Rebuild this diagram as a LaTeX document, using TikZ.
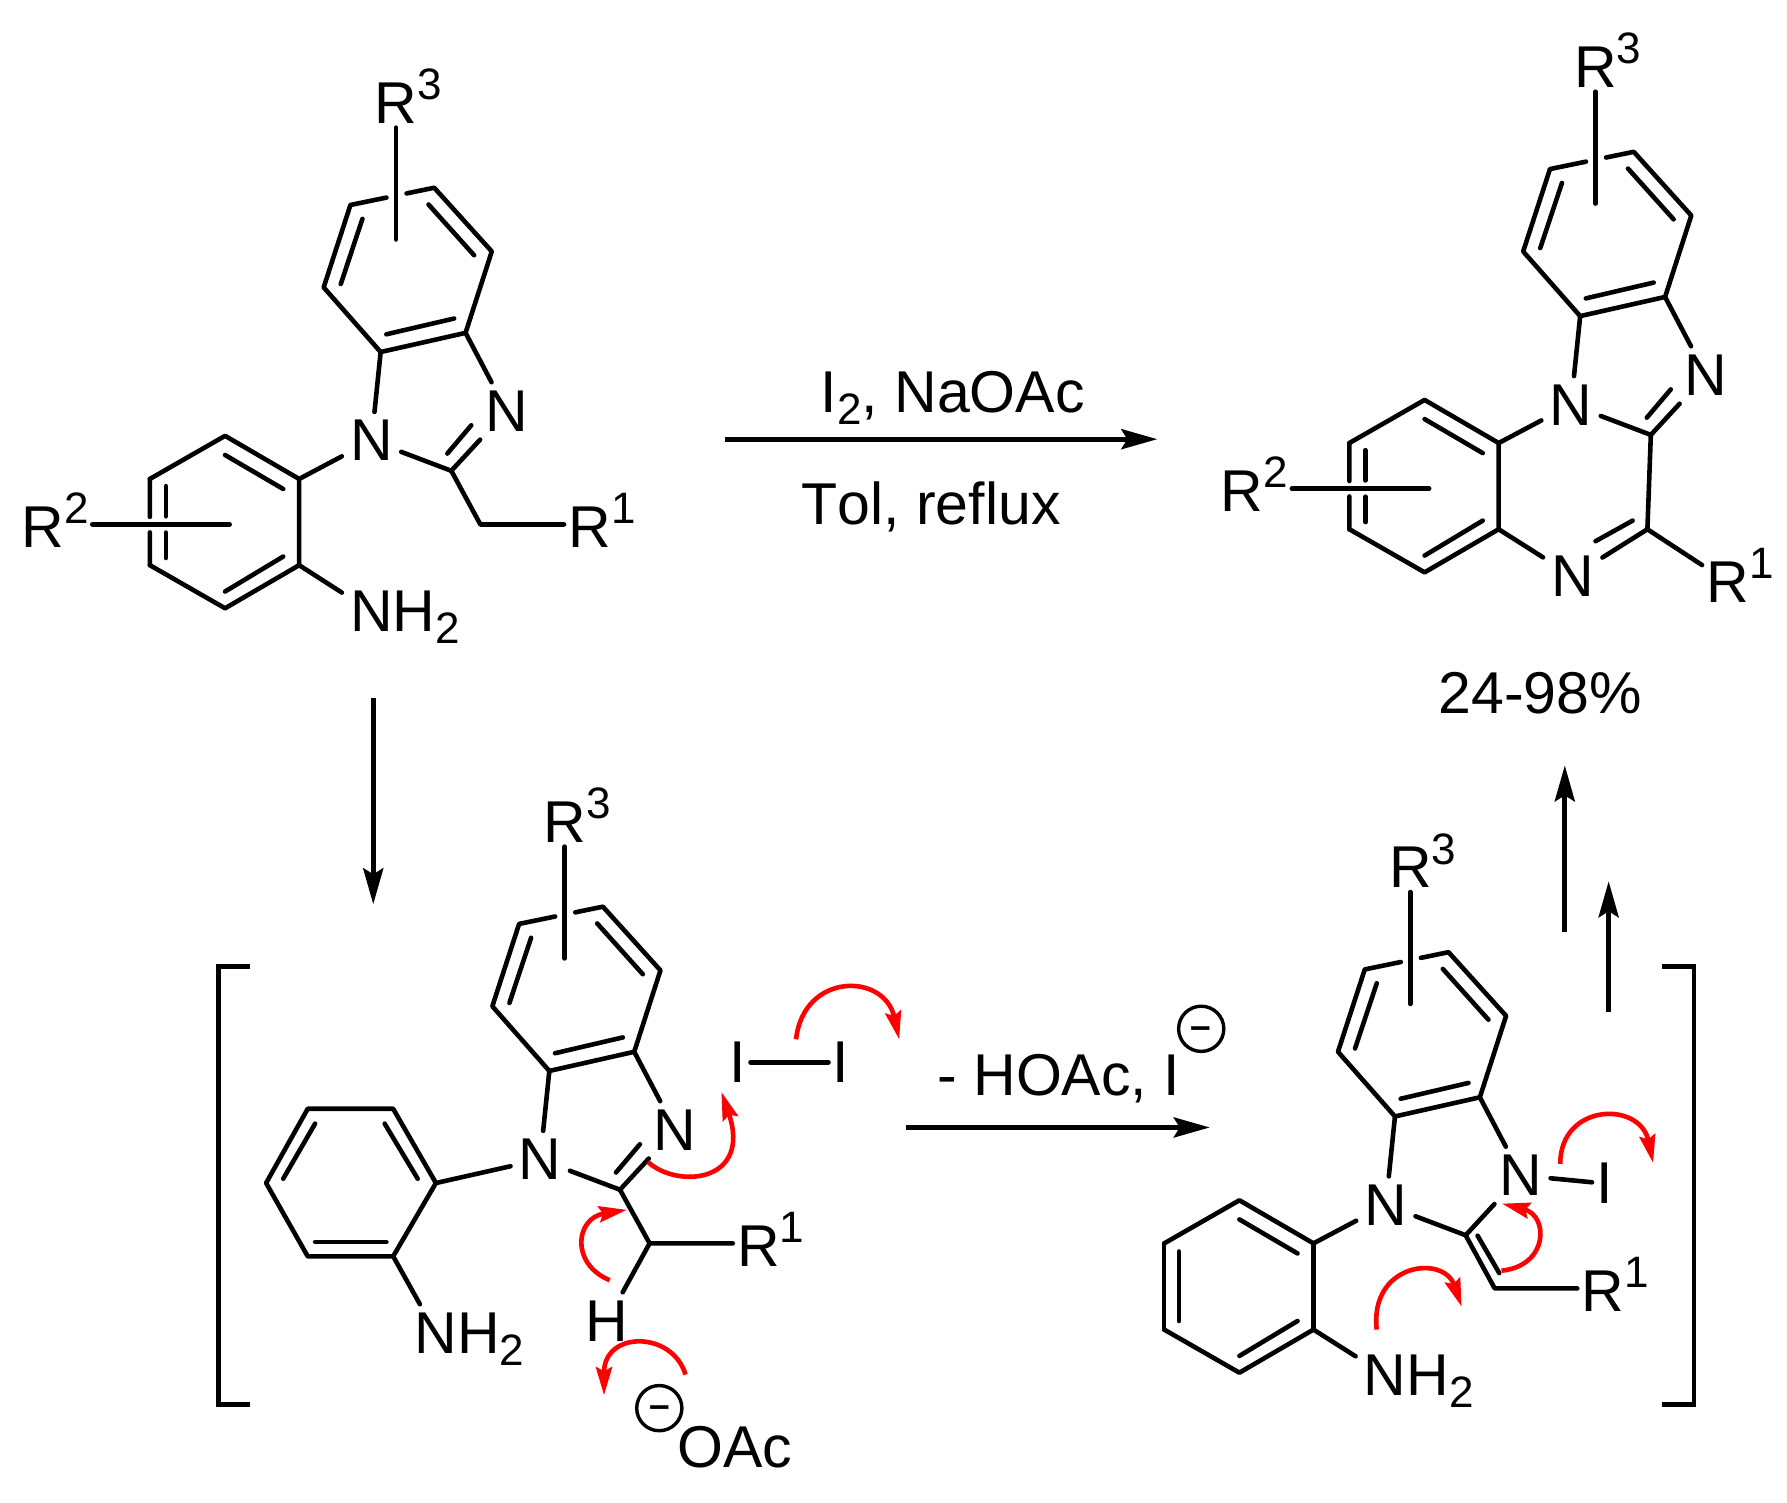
\documentclass[tikz,border=0pt]{standalone}
\usepackage{fontspec}
\setmainfont[Kerning=Off]{Liberation Sans}
\usetikzlibrary{arrows.meta, calc}
\definecolor{color1}{RGB}{255,0,0}
\newcommand{\mainfont}{\fontsize{29.5}{34}\selectfont}
\newcommand{\supfont}{\fontsize{22}{24}\selectfont}
\newcommand{\Rsup}[1]{R\rlap{\raisebox{11.7pt}[0pt][0pt]{\supfont #1}}}
\newcommand{\NHtwo}{N\rlap{H\raisebox{-6pt}[0pt][0pt]{\supfont 2}}}
\tikzset{
  bond/.style={black,line width=2.3pt,line join=round,line cap=round},
  reaction/.style={black,line width=2.4pt,-{Stealth[length=18pt,width=10pt,inset=3pt]}},
  curved/.style={color1,line width=2.3pt,-{Stealth[length=14pt,width=8pt,inset=2pt]}},
  atom/.style={font=\mainfont,inner sep=4pt},
  rgroup/.style={font=\mainfont,inner sep=2pt},
  iodine/.style={font=\mainfont,inner sep=2pt},
  charge/.style={circle,draw,line width=1.7pt,minimum size=22.6pt,inner sep=0pt,font=\fontsize{18.5}{20}\bfseries\selectfont,text height=5pt,text depth=5pt},
  caption/.style={font=\mainfont,anchor=base}
}
% fused ring with the five membered part, #1 prefix, #2 shift
\newcommand{\fusedring}[2]{
  \begin{scope}[shift={#2}]
    \coordinate (#1a) at (615,428);
    \coordinate (#1b) at (762,392);
    \coordinate (#1c) at (863,525);
    \coordinate (#1d) at (817,695);
    \coordinate (#1e) at (668,735);
    \coordinate (#1f) at (568,600);
    \coordinate (#1g) at (792,983);
    \coordinate (#1in) at (827,888);
    \coordinate (#1ic) at (785,947);
    \coordinate (#1rend) at (695,500);
    \node[rgroup] (#1rthree) at (695,215) {\Rsup{3}};
    \node[atom] (#1none) at (652,920) {N};
    \node[atom] (#1ntwo) at (889,858) {N};
    \draw[bond] ($(#1a)!0.43!(#1b)$) -- (#1a) -- (#1f) -- (#1e) -- (#1d) -- (#1c) -- (#1b) -- ($(#1a)!0.67!(#1b)$);
    \draw[bond] (598,593) -- (636,457);
    \draw[bond] (752,427) -- (832,533);
    \draw[bond] (797,665) -- (678,698);
    \draw[bond] (#1rthree) -- (#1rend);
    \draw[bond] (#1e) -- (#1none);
    \draw[bond] (#1d) -- (#1ntwo);
    \draw[bond] (#1none) -- (#1g);
  \end{scope}
}
% six membered ring open on the left side
\newcommand{\sixring}[2]{
  \begin{scope}[shift={#2}]
    \coordinate (#1p) at (395,910);
    \coordinate (#1q) at (525,1000);
    \coordinate (#1r) at (525,1180);
    \coordinate (#1s) at (395,1270);
    \coordinate (#1t) at (263,1180);
    \coordinate (#1u) at (263,1000);
    \draw[bond] (#1u) -- (#1p) -- (#1q) -- (#1r) -- (#1s) -- (#1t);
    \draw[bond] (395,950) -- (497,1021);
    \draw[bond] (497,1162) -- (395,1235);
  \end{scope}
}
% left side cut by the R2 line
\newcommand{\sidecut}[2]{
  \begin{scope}[shift={#2}]
    \coordinate (#1lone) at (162,1095);
    \coordinate (#1ltwo) at (403,1095);
    \node[rgroup] (#1rtwo) at (75,1100) {\Rsup{2}};
    \draw[bond] (#1u) -- ($(#1u)!0.44!(#1t)$);
    \draw[bond] ($(#1u)!0.62!(#1t)$) -- (#1t);
    \draw[bond] (291,1015) -- (291,1078);
    \draw[bond] (291,1112) -- (291,1165);
    \draw[bond] (#1lone) -- (#1ltwo);
  \end{scope}
}
\begin{document}
\begin{tikzpicture}[x=0.28492pt,y=-0.23948pt]
  \useasboundingbox (0,0) rectangle (3136,3136);

  % starting material
  \fusedring{a}{(0,0)}
  \sixring{a}{(0,0)}
  \sidecut{a}{(0,0)}
  \draw[bond] (antwo) -- (ag) (ain) -- (aic);
  \coordinate (ach) at (843,1095);
  \node[rgroup] (arone) at (1035,1100) {\Rsup{1}};
  \node[atom] (anh) at (652,1277) {\NHtwo};
  \draw[bond] (ag) -- (ach) -- (ach -| arone.west);
  \draw[bond] (aq) -- (anone);
  \draw[bond] (ar) -- (anh);

  % product
  \fusedring{b}{(2105,-75)}
  \sixring{b}{(2105,-75)}
  \sidecut{b}{(2105,-75)}
  \draw[bond] (bntwo) -- (bg) (bin) -- (bic);
  \begin{scope}[shift={(1568,0)}]
    \coordinate (bcfour) at (1323,1105);
    \node[atom] (bnfour) at (1192,1203) {N};
    \node[rgroup] (brone) at (1464,1215) {\Rsup{1}};
    \node[caption] (yield) at (1135,1490) {24-98\%};
    \draw[bond] (bg) -- (bcfour) -- (bnfour);
    \draw[bond] (1297,1087) -- (1232,1130);
    \draw[bond] (bcfour) -- (brone);
  \end{scope}
  \draw[bond] (bq) -- (bnone);
  \draw[bond] (br) -- (bnfour);

  % reaction arrows
  \coordinate (topl) at (1273,917);
  \coordinate (topr) at (2031,917);
  \draw[reaction] (topl) -- (topr);
  \node[caption] (reagent) at (1672,862) {I\raisebox{-6pt}[0pt][0pt]{\supfont 2}, NaOAc};
  \node[caption] (solvent) at (1634,1095) {Tol, reflux};
  \coordinate (downa) at (655,1458);
  \coordinate (downb) at (655,1888);
  \draw[reaction] (downa) -- (downb);
  \coordinate (midl) at (1590,2354);
  \coordinate (midr) at (2123,2354);
  \draw[reaction] (midl) -- (midr);
  \node[caption] (loss) at (1858,2288) {- HOAc, I};
  \node[charge] (iminus) at (2108,2148) {\raisebox{-0.265em}{–}};
  \coordinate (upaa) at (2746,1946);
  \coordinate (upab) at (2746,1598);
  \draw[reaction] (upaa) -- (upab);
  \coordinate (upba) at (2823,2113);
  \coordinate (upbb) at (2823,1840);
  \draw[reaction] (upba) -- (upbb);

  % brackets
  \coordinate (brla) at (438,2018);
  \coordinate (brlb) at (383,2018);
  \coordinate (brlc) at (383,2933);
  \coordinate (brld) at (438,2933);
  \draw[bond,line join=miter,line cap=butt] (brla) -- (brlb) -- (brlc) -- (brld);
  \coordinate (brra) at (2916,2018);
  \coordinate (brrb) at (2973,2018);
  \coordinate (brrc) at (2973,2933);
  \coordinate (brrd) at (2916,2933);
  \draw[bond,line join=miter,line cap=butt] (brra) -- (brrb) -- (brrc) -- (brrd);

  % left intermediate
  \fusedring{c}{(296,1501)}
  \draw[bond] (cntwo) -- (cg) (cin) -- (cic);
  \begin{scope}[shift={(0,1568)}]
    \coordinate (cp) at (540,747);
    \coordinate (cq) at (690,747);
    \coordinate (cr) at (765,902);
    \coordinate (cs) at (690,1055);
    \coordinate (ct) at (540,1055);
    \coordinate (cu) at (467,902);
    \coordinate (cch) at (1140,1028);
    \draw[bond] (cp) -- (cq) -- (cr) -- (cs) -- (ct) -- (cu) -- cycle;
    \draw[bond] (675,778) -- (733,893);
    \draw[bond] (553,778) -- (497,893);
    \draw[bond] (553,1025) -- (678,1025);
    \node[atom] (cnh) at (765,1215) {\NHtwo};
    \node[atom] (chyd) at (1065,1190) {H};
    \node[rgroup] (crone) at (1331,1033) {\Rsup{1}};
    \node[iodine] (ione) at (1295,650) {I};
    \node[iodine] (itwo) at (1476,650) {I};
    \node[charge] (ominus) at (1157,1372) {\raisebox{-0.265em}{–}};
    \node[caption] (oac) at (1290,1495) {OAc};
    \draw[bond] (cs) -- (cnh);
    \draw[bond] (cg) -- (cch) -- (cch -| crone.west);
    \draw[bond] (cch) -- (chyd);
    \draw[bond] (ione) -- (itwo);
    \draw[curved] (1397,602) .. controls (1410,462) and (1552,462) .. (1578,602);
    \draw[curved] (1137,858) .. controls (1190,915) and (1320,900) .. (1266,712);
    \draw[curved] (1070,1105) .. controls (1000,1070) and (1010,975) .. (1100,958);
    \draw[curved] (1203,1302) .. controls (1180,1210) and (1060,1210) .. (1060,1345);
  \end{scope}
  \draw[bond] (cr) -- (cnone);

  % right intermediate
  \fusedring{d}{(1780,1596)}
  \sixring{d}{(1780,1596)}
  \draw[bond] (dg) -- (dntwo);
  \begin{scope}[shift={(1568,1568)}]
    \coordinate (dch) at (1055,1122);
    \draw[bond] (du) -- (dt);
    \draw[bond] (501,1045) -- (501,1190);
    \node[atom] (dnh) at (863,1303) {\NHtwo};
    \node[rgroup] (drone) at (1245,1127) {\Rsup{1}};
    \node[iodine] (ithree) at (1248,903) {I};
    \draw[bond] (dg) -- (dch) -- (dch -| drone.west);
    \draw[bond] (1025,1012) -- (1063,1090);
    \draw[bond] (dntwo) -- (ithree);
    \draw[curved] (848,1208) .. controls (835,1070) and (965,1050) .. (997,1160);
    \draw[curved] (1067,1085) .. controls (1150,1075) and (1150,970) .. (1068,945);
    \draw[curved] (1170,862) .. controls (1170,735) and (1310,730) .. (1333,860);
  \end{scope}
  \draw[bond] (dq) -- (dnone);
  \draw[bond] (dr) -- (dnh);
\end{tikzpicture}
\end{document}
